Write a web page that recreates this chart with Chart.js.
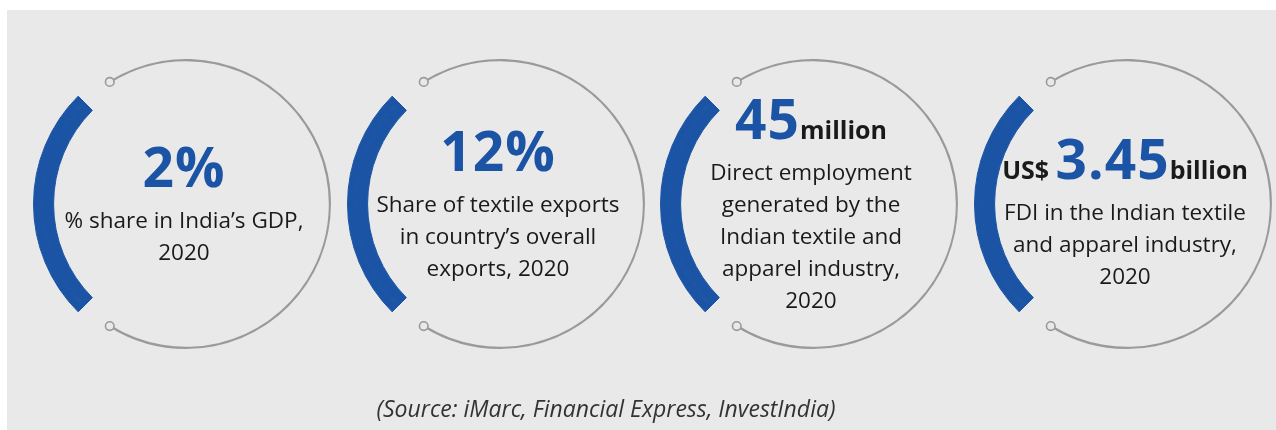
<!DOCTYPE html>
<html lang="en">
<head>
<meta charset="UTF-8">
<title>Indian textile industry - key figures</title>
<style>
  body { margin: 0; background: #fff; font-family: "Open Sans", sans-serif; }
  #panel { position: absolute; left: 7px; top: 10px; width: 1269px; height: 420px; background: #e9e9e9; }
  .ring { position: absolute; top: 44px; width: 320px; height: 320px; }
  .card { position: absolute; top: 0; height: 410px; width: 300px; display: flex; flex-direction: column; justify-content: center; align-items: center; text-align: center; color: #1a1a1a; }
  .head { white-space: nowrap; line-height: 46px; font-weight: 700; }
  .head .big { color: #1b54a5; font-size: 55px; letter-spacing: 1px; }
  .head .small { font-size: 25px; }
  .desc { font-size: 22.5px; line-height: 32px; }
  #source { position: absolute; left: 0; width: 1212px; top: 392px; text-align: center; font-style: italic; font-size: 23px; color: #333; }
</style>
</head>
<body>
<div id="panel"></div>
<div id="cards"></div>
<div id="source">(Source: iMarc, Financial Express, InvestIndia)</div>

<script src="https://cdn.jsdelivr.net/npm/chart.js"></script>
<script>
  // figures shown in the four circles
  const prefixes = ['', '', '', 'US$'];
  const values = ['2%', '12%', '45', '3.45'];
  const units = ['', '', 'million', 'billion'];
  const descriptions = [
    ['% share in India’s GDP,', '2020'],
    ['Share of textile exports', 'in country’s overall', 'exports, 2020'],
    ['Direct employment', 'generated by the', 'Indian textile and', 'apparel industry,', '2020'],
    ['FDI in the Indian textile', 'and apparel industry,', '2020']
  ];

  const centersX = [186, 500, 813, 1127];
  const nudgeY = [0, 0, 0, 8];
  const BLUE = '#1b54a5';
  const GREY = '#9a9a9a';
  const NONE = 'rgba(0,0,0,0)';
  // ring split: blue arc, gap, grey arc, gap (degrees)
  const segments = [90, 13, 244, 13];

  // little hollow dots at both ends of the grey arc
  const endDots = {
    id: 'endDots',
    afterDatasetsDraw(chart) {
      const arc = chart.getDatasetMeta(1).data[2];
      const p = arc.getProps(['x', 'y', 'startAngle', 'endAngle', 'innerRadius', 'outerRadius'], true);
      const r = (p.innerRadius + p.outerRadius) / 2;
      const ctx = chart.ctx;
      ctx.save();
      ctx.lineWidth = 1.6;
      ctx.strokeStyle = GREY;
      ctx.fillStyle = '#e9e9e9';
      [p.startAngle, p.endAngle].forEach(a => {
        ctx.beginPath();
        ctx.arc(p.x + r * Math.cos(a), p.y + r * Math.sin(a), 4.3, 0, Math.PI * 2);
        ctx.fill();
        ctx.stroke();
      });
      ctx.restore();
    }
  };

  const cards = document.getElementById('cards');

  values.forEach((val, i) => {
    const cv = document.createElement('canvas');
    cv.className = 'ring';
    cv.width = 320; cv.height = 320;
    cv.style.left = (centersX[i] - 160) + 'px';
    document.body.insertBefore(cv, cards);

    new Chart(cv.getContext('2d'), {
      type: 'doughnut',
      data: {
        labels: ['highlight', 'gap', 'outline', 'gap'],
        datasets: [
          { data: segments, weight: 5.25, backgroundColor: [BLUE, NONE, NONE, NONE], borderColor: [BLUE, NONE, NONE, NONE], borderWidth: [1, 0, 0, 0] },
          { data: segments, weight: 1.5, backgroundColor: [BLUE, NONE, GREY, NONE], borderColor: [BLUE, NONE, NONE, NONE], borderWidth: [1, 0, 0, 0] },
          { data: segments, weight: 7.25, backgroundColor: [BLUE, NONE, NONE, NONE], borderColor: [BLUE, NONE, NONE, NONE], borderWidth: [1, 0, 0, 0] }
        ]
      },
      options: {
        responsive: false,
        animation: false,
        events: [],
        rotation: 225,
        radius: 152.5,
        cutout: 138.5,
        plugins: { legend: { display: false }, tooltip: { enabled: false } }
      },
      plugins: [endDots]
    });

    const card = document.createElement('div');
    card.className = 'card';
    card.style.left = (centersX[i] - 152) + 'px';
    card.style.top = nudgeY[i] + 'px';
    let head = '';
    if (prefixes[i]) head += '<span class="small">' + prefixes[i] + ' </span>';
    head += '<span class="big">' + val + '</span>';
    if (units[i]) head += '<span class="small">' + units[i] + '</span>';
    card.innerHTML = '<div class="head">' + head + '</div>' +
      '<div class="desc">' + descriptions[i].join('<br>') + '</div>';
    cards.appendChild(card);
  });
</script>
</body>
</html>
